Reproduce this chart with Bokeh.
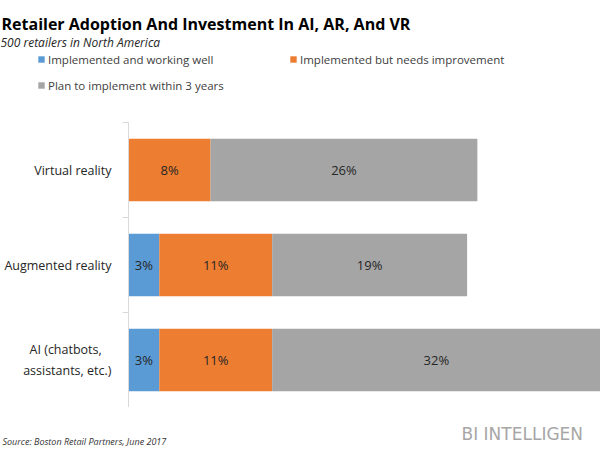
from bokeh.plotting import figure
from bokeh.layouts import column
from bokeh.models import FixedTicker, Label, Legend, LegendItem, ColumnDataSource, Range1d
from bokeh.core.properties import value
from bokeh.embed import file_html
from bokeh.resources import INLINE

categories = ["Virtual reality", "Augmented reality", "AI (chatbots,\u00a0\u00a0\u00a0\nassistants, etc.)"]
working_well = [0, 3, 3]
needs_improvement = [8, 11, 11]
plan_3_years = [26, 19, 32]
series_names = ["Implemented and working well",
                "Implemented but needs improvement",
                "Plan to implement within 3 years"]
colors = ["#5b9bd5", "#ed7d31", "#a5a5a5"]

n = len(categories)
ypos = [n - 0.5 - i for i in range(n)]
keys = ["ww", "ni", "pl"]
series = [working_well, needs_improvement, plan_3_years]

src = ColumnDataSource(dict(y=ypos, ww=working_well, ni=needs_improvement, pl=plan_3_years))

W = 600
common = dict(output_backend="svg", toolbar_location=None, title_location=None, frame_align=False)

# ---------------- header: title, subtitle, legend ----------------
head = figure(width=W, height=122, x_range=Range1d(0, 46), y_range=Range1d(10, 11),
              x_axis_location=None, y_axis_location=None, min_border=0, **common)
head.outline_line_color = None
head.grid.visible = False
# legend keys (same series; outside this panel's view)
key_r = head.hbar_stack(keys, y="y", height=0.66, color=colors, line_color=None, source=src)

legend = Legend(items=[LegendItem(label=series_names[0], renderers=[key_r[0]]),
                       LegendItem(label=series_names[1], renderers=[key_r[1]]),
                       LegendItem(label=series_names[2], renderers=[key_r[2]])],
                location=(37, 24), orientation="horizontal", ncols=2)
legend.glyph_width = 8
legend.glyph_height = 8
legend.label_text_font = "Open Sans"
legend.label_text_font_size = "11.5px"
legend.label_text_color = "#404040"
legend.padding = 0
legend.margin = 0
legend.border_line_color = None
legend.background_fill_alpha = 0
legend.spacing = 0
legend.label_height = 26
legend.label_width = 241
legend.label_standoff = 3
head.add_layout(legend, "center")

def note(fig, x, y, text, size, style="normal", color="#262626", font="Open Sans"):
    fig.add_layout(Label(x=x, y=y, x_units="screen", y_units="screen", text=text,
                         text_font=font, text_font_style=style, text_font_size=size,
                         text_color=color, text_baseline="alphabetic"))

note(head, 1, 99, "Retailer Adoption And Investment In AI, AR, And VR", "16px", "bold", "#000000")
note(head, 0, 80, "500 retailers in North America", "12px", "italic")

# ---------------- main chart ----------------
p = figure(width=W, height=285, x_range=Range1d(0, 46), y_range=Range1d(0, n),
           x_axis_location=None,
           min_border_left=128, min_border_right=0, min_border_top=0, min_border_bottom=0, **common)
p.outline_line_color = None
p.grid.visible = False

p.hbar_stack(keys, y="y", height=0.66, color=colors, line_color=None, source=src)

lx, ly, lt = [], [], []
for i in range(n):
    left = 0
    for s in series:
        v = s[i]
        if v > 0:
            lx.append(left + v / 2)
            ly.append(ypos[i])
            lt.append(f"{v}%")
        left += v
p.text(x=lx, y=ly, text=lt, text_align="center", text_baseline="middle",
       text_font=value("Open Sans"), text_font_size="13px", text_color="#262626")

ax = p.yaxis[0]
ax.ticker = FixedTicker(ticks=ypos, minor_ticks=list(range(n + 1)))
ax.major_label_overrides = {y: c for y, c in zip(ypos, categories)}
ax.major_tick_out = 0
ax.major_tick_in = 0
ax.minor_tick_out = 6
ax.minor_tick_in = 0
ax.axis_line_color = "#d9d9d9"
ax.minor_tick_line_color = "#d9d9d9"
ax.major_label_text_font = "Open Sans"
ax.major_label_text_font_size = "12.5px"
ax.major_label_text_color = "#262626"
ax.major_label_standoff = 11

# ---------------- footer ----------------
foot = figure(width=W, height=42, x_range=Range1d(0, 1), y_range=Range1d(0, 1),
              x_axis_location=None, y_axis_location=None, min_border=0, **common)
foot.outline_line_color = None
foot.grid.visible = False
note(foot, 461, 16, "BI INTELLIGEN", "17px", "normal", "#a6a6a6", "DejaVu Sans")
note(foot, 2, 8, "Source: Boston Retail Partners, June 2017", "9px", "italic", "#333333")

layout = column(head, p, foot, spacing=0)
open("out.html", "w").write(file_html(layout, INLINE))
